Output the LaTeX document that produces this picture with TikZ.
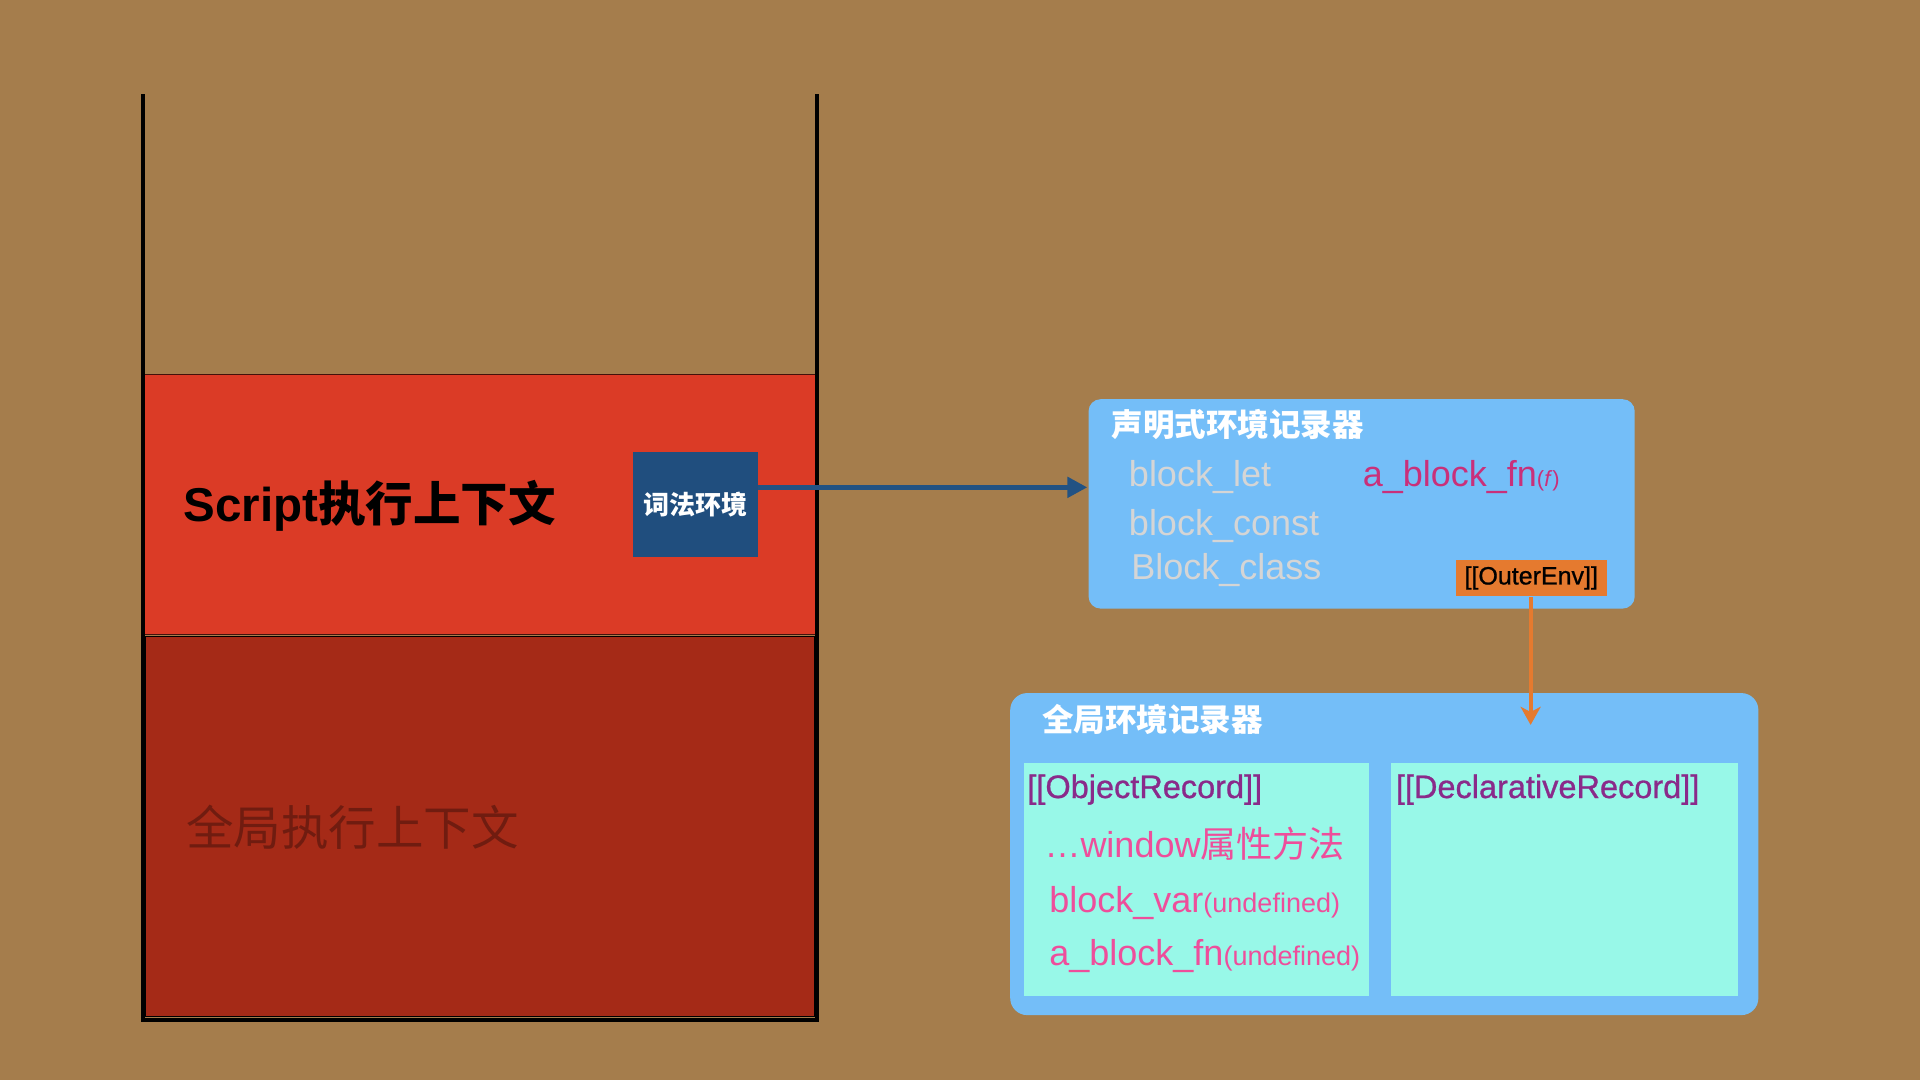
\documentclass[tikz,border=0pt]{standalone}
\usepackage{fontspec}
\setmainfont{Liberation Sans}
\newfontfamily\cjk{Noto Sans CJK SC}
\newfontface\medsans{Liberation Sans}[FakeBold=0.8]
\usetikzlibrary{arrows.meta}
\newcommand\zh[1]{{\cjk #1}}
\newcommand\fsz[1]{\fontsize{#1}{#1}\selectfont}
\definecolor{bg}{HTML}{A57D4C}
\definecolor{redA}{HTML}{DB3B26}
\definecolor{redB}{HTML}{A52A17}
\definecolor{redTxt}{HTML}{701C10}
\definecolor{navy}{HTML}{204E7E}
\definecolor{arrblue}{HTML}{225283}
\definecolor{skyb}{HTML}{74BEF8}
\definecolor{aqua}{HTML}{98F8E8}
\definecolor{grayTxt}{HTML}{D5D5D5}
\definecolor{magTxt}{HTML}{C9307A}
\definecolor{pinkTxt}{HTML}{EE4E9B}
\definecolor{purpTxt}{HTML}{8A2A8A}
\definecolor{orangeA}{HTML}{E57A2F}
\tikzset{
  txt/.style={anchor=base west, inner sep=0pt, outer sep=0pt},
  envbox/.style={fill=skyb, draw=none},
  recbox/.style={fill=aqua, draw=none},
  stackline/.style={line width=4pt, black},
}
\begin{document}
\begin{tikzpicture}[x=1.2245pt,y=-1.2245pt]
\useasboundingbox[fill=bg] (0,0) rectangle (1568,882);
% stack
\fill[redA, draw=black!70!redA, line width=1pt] (117,306) rectangle (667,518);
\fill[redB, draw=black, line width=1pt] (119,520) rectangle (665,830);
\draw[stackline] (117,77) -- (117,835);
\draw[stackline] (667,77) -- (667,835);
\draw[stackline] (117,833) -- (667,833);
\node[txt] (script) at (150,426) {\fsz{47.5}\bfseries Script\zh{执行上下文}};
\node[txt, text=redTxt] (global) at (152,690.6) {\fsz{47.5}\zh{全局执行上下文}};
\node[fill=navy, minimum width=102*1.2245pt, minimum height=86*1.2245pt, inner sep=0pt, text=white] (lex) at (568,412) {\fsz{26}\zh{\bfseries 词法环境}};
% declarative env
\path[envbox, rounded corners=12pt] (889,326) rectangle (1335,497);
\node[txt, text=white] (dtitle) at (908,356.6) {\fsz{31.5}\zh{\bfseries 声明式环境记录器}};
\node[txt, text=grayTxt] (blet) at (922,397.6) {\fsz{36}block\_let};
\node[txt, text=grayTxt] (bconst) at (922,437.6) {\fsz{36}block\_const};
\node[txt, text=grayTxt] (bclass) at (924,473.6) {\fsz{36}Block\_class};
\node[txt, text=magTxt] (afn) at (1113,397.6) {\fsz{36}a\_block\_fn{\fsz{22}(\textit{f})}};
\node[fill=orangeA, minimum width=123*1.2245pt, minimum height=30*1.2245pt, inner sep=0pt] (outer) at (1250.5,472) {\fsz{25}\medsans [[OuterEnv]]};
% global env
\path[envbox, rounded corners=17pt] (825,566) rectangle (1436,829);
\node[txt, text=white] (gtitle) at (851,597.6) {\fsz{31.5}\zh{\bfseries 全局环境记录器}};
\path[recbox] (836,623) rectangle (1118,813);
\path[recbox] (1136,623) rectangle (1419,813);
\node[txt, text=purpTxt] (objrec) at (839,651.7) {\fsz{32.5}\medsans [[ObjectRecord]]};
\node[txt, text=purpTxt] (decrec) at (1140,651.7) {\fsz{32.5}\medsans [[DeclarativeRecord]]};
\node[txt, text=pinkTxt] (win) at (853,700.5) {\fsz{36}…window\zh{属性方法}};
\node[txt, text=pinkTxt] (bvar) at (857,745.6) {\fsz{36}block\_var{\fsz{27}(undefined)}};
\node[txt, text=pinkTxt] (afn2) at (857,788.6) {\fsz{36}a\_block\_fn{\fsz{27}(undefined)}};
% arrows
\coordinate (a1) at (619,398);
\coordinate (a2) at (888,398);
\draw[arrblue, line width=5pt, -{Triangle[length=20pt,width=20pt]}] (a1) -- (a2);
\coordinate (g1) at (1250,592);
\draw[orangeA, line width=4pt, -{Stealth[length=18pt,width=20pt,inset=5pt]}] (outer.south -| g1) -- (g1);
\end{tikzpicture}
\end{document}
